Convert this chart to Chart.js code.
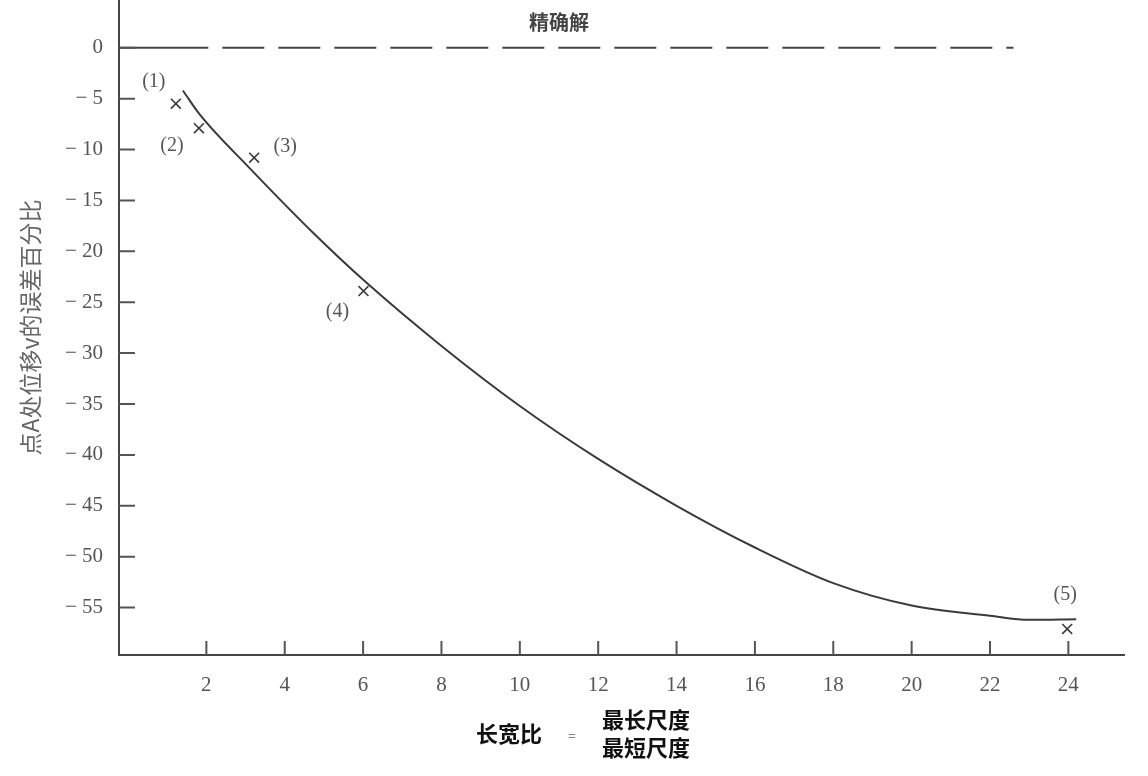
<!DOCTYPE html>
<html>
<head>
<meta charset="utf-8">
<script src="https://cdn.jsdelivr.net/npm/chart.js@4/dist/chart.umd.min.js"></script>
<style>
html, body { margin: 0; padding: 0; background: #fff; }
#wrap { width: 1148px; height: 776px; }
</style>
</head>
<body>
<div id="wrap"><canvas id="chart"></canvas></div>
<script>
// fitted curve
var curveX = [1.40, 1.84, 3.11, 4.73, 6.09, 8, 10, 12, 14, 16, 18, 20, 22, 23, 24.2];
var curveY = [-4.2, -6.6, -11.85, -18.2, -23.1, -29.3, -35.2, -40.4, -45.0, -49.1, -52.6, -54.8, -55.8, -56.2, -56.15];

// numbered cases (x marks)
var caseX = [1.22, 1.81, 3.22, 6.01, 23.97];
var caseY = [-5.5, -7.9, -10.8, -23.9, -57.1];
var caseLabels = ["(1)", "(2)", "(3)", "(4)", "(5)"];

// exact solution line
var exactX = [-0.23, 2.05, 22.6];
var exactY = [0, 0, 0];
var exactLabel = "精确解";

var xTicks = [2, 4, 6, 8, 10, 12, 14, 16, 18, 20, 22, 24];
var yTicks = [-55, -50, -45, -40, -35, -30, -25, -20, -15, -10, -5, 0];

var ink = "#3a3a3a";
var grey = "#555";

function pts(xs, ys) {
    return xs.map(function(x, i) { return {x: x, y: ys[i]}; });
}

// label offsets in px from each x mark
var labelOffsets = [[-22, -22], [-27, 18], [31, -11], [-26, 21], [-2, -34]];

var extras = {
    id: "extras",
    afterDraw: function(chart) {
        var ctx = chart.ctx;
        var xs = chart.scales.x, ys = chart.scales.y;
        var area = chart.chartArea;
        ctx.save();
        // inward tick marks
        ctx.strokeStyle = grey;
        ctx.lineWidth = 2;
        ctx.beginPath();
        yTicks.forEach(function(v) {
            var py = ys.getPixelForValue(v);
            ctx.moveTo(area.left, py);
            ctx.lineTo(area.left + 16, py);
        });
        xTicks.forEach(function(v) {
            var px = xs.getPixelForValue(v);
            ctx.moveTo(px, area.bottom);
            ctx.lineTo(px, area.bottom - 14);
        });
        ctx.stroke();

        // case labels
        ctx.fillStyle = grey;
        ctx.font = "20px 'Liberation Serif'";
        ctx.textAlign = "center";
        ctx.textBaseline = "middle";
        caseLabels.forEach(function(t, i) {
            var px = xs.getPixelForValue(caseX[i]) + labelOffsets[i][0];
            var py = ys.getPixelForValue(caseY[i]) + labelOffsets[i][1];
            ctx.fillText(t, px, py);
        });

        // exact solution label
        ctx.fillStyle = "#444";
        ctx.font = "bold 20px 'Noto Sans CJK SC'";
        ctx.fillText(exactLabel, xs.getPixelForValue(11.0), ys.getPixelForValue(2.5));

        // x axis title as a fraction
        ctx.fillStyle = "#111";
        ctx.font = "bold 22px 'Noto Sans CJK SC'";
        ctx.fillText("长宽比", 509, 734);
        ctx.fillText("最长尺度", 646, 720);
        ctx.fillText("最短尺度", 646, 748);
        ctx.fillStyle = "#888";
        ctx.font = "14px 'Noto Sans CJK SC'";
        ctx.fillText("=", 572, 736);
        ctx.restore();
    }
};

var ctx = document.getElementById("chart").getContext("2d");
var chart = new Chart(ctx, {
    type: "scatter",
    data: {
        datasets: [
            {
                data: pts(exactX, exactY),
                showLine: true,
                borderColor: "#444",
                borderWidth: 2,
                pointRadius: 0,
                segment: {
                    borderDash: function(c) { return c.p0DataIndex === 0 ? [] : [42, 14]; },
                    borderDashOffset: function(c) { return c.p0DataIndex === 0 ? 0 : 42; }
                }
            },
            {
                data: pts(curveX, curveY),
                showLine: true,
                borderColor: ink,
                borderWidth: 2,
                pointRadius: 0,
                cubicInterpolationMode: "monotone"
            },
            {
                data: pts(caseX, caseY),
                pointStyle: "crossRot",
                pointRadius: 7,
                borderColor: ink,
                borderWidth: 1.6
            }
        ]
    },
    options: {
        animation: false,
        responsive: true,
        maintainAspectRatio: false,
        layout: { autoPadding: false, padding: { left: 0, right: 24, top: 0, bottom: 0 } },
        plugins: { legend: { display: false }, tooltip: { enabled: false } },
        scales: {
            x: {
                type: "linear",
                min: -0.23,
                max: 25.42,
                afterBuildTicks: function(s) { s.ticks = xTicks.map(function(v) { return {value: v}; }); },
                afterFit: function(s) { s.height = 121; },
                grid: { display: false, drawTicks: false },
                border: { display: true, color: "#444", width: 2 },
                ticks: {
                    padding: 18,
                    color: grey,
                    font: { family: "'Liberation Serif'", size: 21 },
                    maxRotation: 0
                }
            },
            y: {
                min: -59.66,
                max: 4.69,
                afterBuildTicks: function(s) { s.ticks = yTicks.map(function(v) { return {value: v}; }); },
                afterFit: function(s) { s.width = 119; s.paddingTop = 0; s.paddingBottom = 0; },
                grid: { display: false, drawTicks: false },
                border: { display: true, color: "#444", width: 2 },
                ticks: {
                    padding: 16,
                    color: grey,
                    font: { family: "'Liberation Serif'", size: 21 },
                    callback: function(v) { return v === 0 ? "0" : "− " + Math.abs(v); }
                },
                title: {
                    display: true,
                    text: "点A处位移v的误差百分比",
                    color: "#666",
                    font: { family: "'Noto Sans CJK SC'", size: 23 },
                    padding: { top: 16, bottom: 0 }
                }
            }
        }
    },
    plugins: [extras]
});
</script>
</body>
</html>
